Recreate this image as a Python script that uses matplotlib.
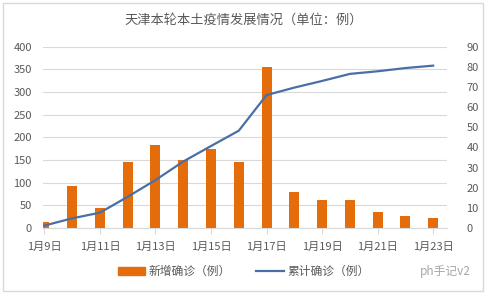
import matplotlib
matplotlib.use('Agg')
import numpy as np
import matplotlib.pyplot as plt
from matplotlib.patches import Rectangle, Patch
from matplotlib.lines import Line2D

plt.rcParams['font.family'] = ['Noto Sans CJK SC', 'DejaVu Sans']

dates = ['1月9日', '1月10日', '1月11日', '1月12日', '1月13日', '1月14日', '1月15日', '1月16日',
         '1月17日', '1月18日', '1月19日', '1月20日', '1月21日', '1月22日', '1月23日']
new_cases = [13, 93, 44, 145, 183, 150, 175, 145, 355, 80, 62, 62, 35, 27, 22]
total_cases = [1.2, 4.8, 7.6, 15.5, 23.8, 33, 40.7, 48.3, 66, 69.7, 73, 76.5, 77.8, 79.4, 80.6]

orange = '#E46C0A'
blue = '#4A6FA5'
grey = '#595959'

fig = plt.figure(figsize=(4.87, 2.95), dpi=100)
ax = fig.add_axes([0.0883, 0.2271, 0.8297, 0.6146])
ax2 = ax.twinx()

x = np.arange(len(dates))
ax.bar(x, new_cases, width=0.36, color=orange, zorder=2)
ax2.plot(x, total_cases, color=blue, lw=1.6, zorder=3)

ax.set_xlim(-0.05, 14.5)
ax.set_ylim(0, 400)
ax2.set_ylim(0, 90)
ax.set_yticks(range(0, 401, 50))
ax2.set_yticks(range(0, 91, 10))
ax.set_xticks(x[::2])
ax.set_xticklabels(dates[::2])

ax.grid(axis='y', color='#D9D9D9', lw=0.8, zorder=0)
ax.set_axisbelow(True)
for a in (ax, ax2):
    for s in ('left', 'right', 'top', 'bottom'):
        a.spines[s].set_visible(False)
ax.spines['bottom'].set_visible(True)
ax.spines['bottom'].set_color('#D9D9D9')

ax.tick_params(axis='y', length=0, labelsize=8, labelcolor=grey, pad=8)
ax2.tick_params(axis='y', length=0, labelsize=8, labelcolor=grey, pad=14)
ax.tick_params(axis='x', length=4, color='#D9D9D9', labelsize=8, labelcolor=grey, pad=6)

ax2.set_zorder(ax.get_zorder() + 1)
ax2.patch.set_visible(False)

fig.text(0.5, 0.932, '天津本轮本土疫情发展情况（单位：例）', ha='center', va='center',
         fontsize=9.5, color=grey)

handles = [Patch(color=orange), Line2D([0], [0], color=blue, lw=1.6)]
fig.legend(handles, ['新增确诊（例）', '累计确诊（例）'], loc='center',
           bbox_to_anchor=(0.5, 0.079), ncol=2, frameon=False, fontsize=8.5,
           handlelength=2.3, handleheight=0.6, columnspacing=2.2, handletextpad=0.3,
           labelcolor=grey)

fig.text(0.915, 0.079, 'ph手记v2', ha='center', va='center', fontsize=8.5, color='#A6A6A6')

fig.patches.append(Rectangle((0.006, 0.014), 0.985, 0.975, transform=fig.transFigure,
                             fill=False, edgecolor='#D9D9D9', lw=1))

fig.savefig('out.png', dpi=100)
